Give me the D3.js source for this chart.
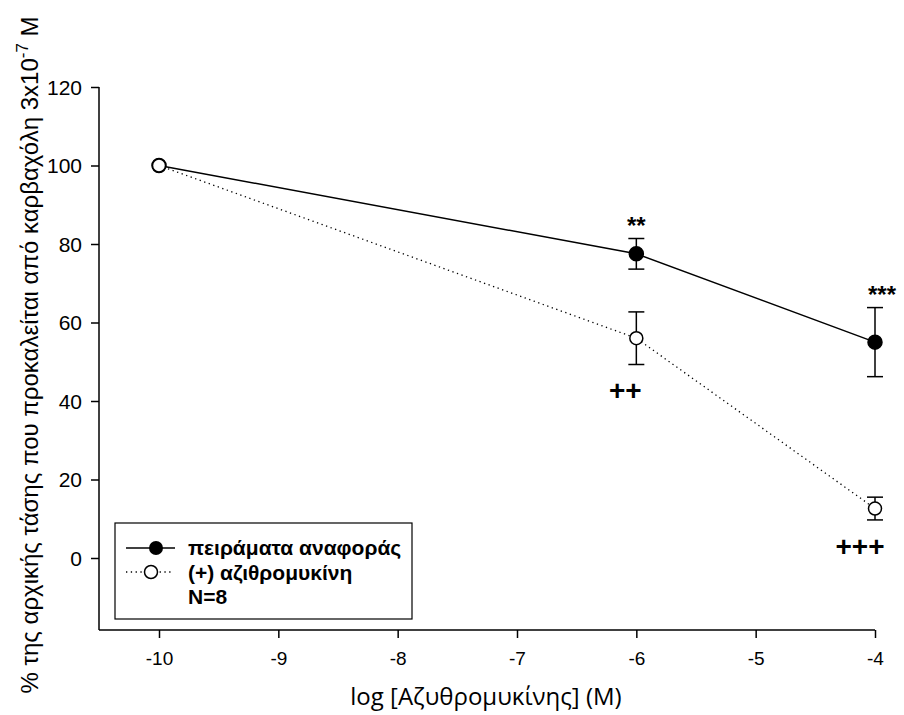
<!DOCTYPE html>
<html>
<head>
<meta charset="utf-8">
<script src="https://cdn.jsdelivr.net/npm/d3@7"></script>
<style>
  body { margin: 0; background: #fff; }
  svg text { font-family: "Liberation Sans", Arial, sans-serif; fill: #000; }
</style>
</head>
<body>
<div id="chart"></div>
<script>
// Data
const xTicks = [-10, -9, -8, -7, -6, -5, -4];
const yTicks = [0, 20, 40, 60, 80, 100, 120];

const controlX = [-10, -6, -4];
const controlY = [100, 77.5, 55];
const controlErr = [0, 3.9, 8.8];

const aziX = [-10, -6, -4];
const aziY = [100, 56, 12.6];
const aziErr = [0, 6.7, 2.9];

const controlMarks = ["", "**", "***"];
const aziMarks = ["", "++", "+++"];

const legendLabels = ["πειράματα αναφοράς", "(+) αζιθρομυκίνη", "N=8"];

const width = 904;
const height = 715;

const svg = d3
  .select("#chart")
  .append("svg")
  .attr("width", width)
  .attr("height", height);

// Scales
let xScale = d3.scaleLinear().domain([-10, -4]).range([159, 875]);
let yScale = d3.scaleLinear().domain([0, 120]).range([558, 87]);

const xLeft = xScale.invert(99);
const yBottom = yScale.invert(630);

// Axes
const yAxisG = svg
  .append("g")
  .attr("transform", `translate(${xScale(xLeft)},0)`)
  .call(d3.axisLeft(yScale).tickValues(yTicks).tickSize(8).tickPadding(9).tickSizeOuter(0));
yAxisG.select(".domain").attr("d", `M0,${yScale(120)}V${yScale(yBottom)}`);
yAxisG.selectAll("text").style("font-size", "21px").attr("dy", "0.34em");

const xAxisG = svg
  .append("g")
  .attr("transform", `translate(0,${yScale(yBottom)})`)
  .call(
    d3
      .axisBottom(xScale)
      .tickValues(xTicks)
      .tickFormat((d) => d)
      .tickSize(8)
      .tickPadding(14)
      .tickSizeOuter(0)
  );
xAxisG.select(".domain").attr("d", `M${xScale(xLeft)},0H${xScale(-4)}`);
xAxisG.selectAll("text").style("font-size", "19px");

svg.selectAll(".domain, .tick line").attr("stroke", "#000").attr("stroke-width", 1.5);

// Axis titles
svg
  .append("text")
  .attr("x", 486)
  .attr("y", 705)
  .attr("text-anchor", "middle")
  .style("font-family", "'Open Sans', sans-serif")
  .style("font-size", "24px")
  .text("log [Αζυθρομυκίνης] (M)");

const yTitle = svg
  .append("text")
  .attr("transform", "translate(38,355) rotate(-90)")
  .attr("text-anchor", "middle")
  .style("font-size", "24px");
yTitle.append("tspan").text("% της αρχικής τάσης που προκαλείται από καρβαχόλη 3x10");
yTitle.append("tspan").attr("dy", -10).style("font-size", "17px").text("-7");
yTitle.append("tspan").attr("dy", 10).text(" M");

// Series
const control = controlX.map((x, i) => ({ x, y: controlY[i], err: controlErr[i], mark: controlMarks[i] }));
const azi = aziX.map((x, i) => ({ x, y: aziY[i], err: aziErr[i], mark: aziMarks[i] }));

const line = d3
  .line()
  .x((d) => xScale(d.x))
  .y((d) => yScale(d.y));

svg
  .append("path")
  .attr("d", line(azi))
  .attr("fill", "none")
  .attr("stroke", "#000")
  .attr("stroke-width", 1.3)
  .attr("stroke-dasharray", "1.3,3.5");

svg
  .append("path")
  .attr("d", line(control))
  .attr("fill", "none")
  .attr("stroke", "#000")
  .attr("stroke-width", 1.5);

function drawErrors(data) {
  const g = svg.append("g");
  data
    .filter((d) => d.err > 0)
    .forEach((d) => {
      const cx = xScale(d.x);
      const y1 = yScale(d.y + d.err);
      const y2 = yScale(d.y - d.err);
      g.append("line").attr("x1", cx).attr("x2", cx).attr("y1", y1).attr("y2", y2);
      g.append("line").attr("x1", cx - 8).attr("x2", cx + 8).attr("y1", y1).attr("y2", y1);
      g.append("line").attr("x1", cx - 8).attr("x2", cx + 8).attr("y1", y2).attr("y2", y2);
    });
  g.selectAll("line").attr("stroke", "#000").attr("stroke-width", 1.5);
}
drawErrors(control);
drawErrors(azi);

svg
  .append("g")
  .selectAll("circle")
  .data(control)
  .join("circle")
  .attr("cx", (d) => xScale(d.x))
  .attr("cy", (d) => yScale(d.y))
  .attr("r", 7)
  .attr("fill", "#000")
  .attr("stroke", "#000")
  .attr("stroke-width", 1.5);

svg
  .append("g")
  .selectAll("circle")
  .data(azi)
  .join("circle")
  .attr("cx", (d) => xScale(d.x))
  .attr("cy", (d) => yScale(d.y))
  .attr("r", 6.5)
  .attr("fill", "#fff")
  .attr("stroke", "#000")
  .attr("stroke-width", 1.5);

// Significance marks
svg
  .append("g")
  .selectAll("text")
  .data(control.filter((d) => d.mark))
  .join("text")
  .attr("x", (d) => xScale(d.x) + (d.mark.length - 2) * 7)
  .attr("y", (d) => yScale(d.y + d.err) - 5)
  .attr("text-anchor", "middle")
  .style("font-size", "24px")
  .style("font-weight", "bold")
  .text((d) => d.mark);

svg
  .append("g")
  .selectAll("text")
  .data(azi.filter((d) => d.mark))
  .join("text")
  .attr("x", (d) => xScale(d.x) - 3 - 4 * d.mark.length)
  .attr("y", (d) => yScale(d.y - d.err) + 36)
  .attr("text-anchor", "middle")
  .style("font-size", "28px")
  .style("font-weight", "bold")
  .text((d) => d.mark);

// Legend
const legend = svg.append("g").attr("transform", "translate(115,523)");
legend
  .append("rect")
  .attr("width", 297)
  .attr("height", 96)
  .attr("fill", "#fff")
  .attr("stroke", "#000")
  .attr("stroke-width", 1.2);

legend
  .append("line")
  .attr("x1", 11).attr("x2", 60).attr("y1", 25).attr("y2", 25)
  .attr("stroke", "#000").attr("stroke-width", 1.5);
legend.append("circle").attr("cx", 41).attr("cy", 25).attr("r", 7).attr("fill", "#000");

legend
  .append("line")
  .attr("x1", 11).attr("x2", 58).attr("y1", 49).attr("y2", 49)
  .attr("stroke", "#000").attr("stroke-width", 1.3).attr("stroke-dasharray", "1.3,3.5");
legend
  .append("circle").attr("cx", 36).attr("cy", 49).attr("r", 6.5)
  .attr("fill", "#fff").attr("stroke", "#000").attr("stroke-width", 1.5);

legend
  .selectAll(".legend-label")
  .data(legendLabels)
  .join("text")
  .attr("class", "legend-label")
  .attr("x", 73)
  .attr("y", (d, i) => 32 + i * 24.5)
  .style("font-size", "21px")
  .style("font-weight", "bold")
  .text((d) => d);
</script>
</body>
</html>
